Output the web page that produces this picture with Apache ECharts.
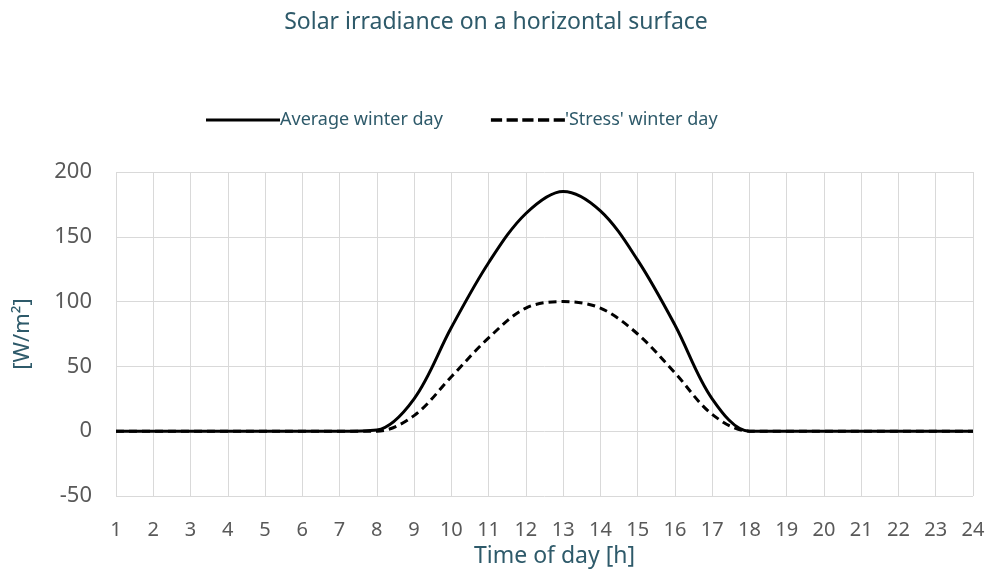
<!DOCTYPE html>
<html>
<head>
<meta charset="utf-8">
<script src="https://cdn.jsdelivr.net/npm/echarts@6/dist/echarts.min.js"></script>
<style>html,body{margin:0;padding:0;background:#fff;}#chart{width:992px;height:575px;}</style>
</head>
<body>
<div id="chart"></div>
<script>
const hours = ['1','2','3','4','5','6','7','8','9','10','11','12','13','14','15','16','17','18','19','20','21','22','23','24'];
const averageDay = [0,0,0,0,0,0,0,1,25,80,130,168,185,170,132,82,25,0,0,0,0,0,0,0];
const stressDay  = [0,0,0,0,0,0,0,0,12,42,72,95,100,95,75,45,13,0,0,0,0,0,0,0];
const yTicks = [-50, 0, 50, 100, 150, 200];

const chart = echarts.init(document.getElementById('chart'));
const teal = '#2E5A6A';
const font = 'Noto Sans';
chart.setOption({
  animation: false,
  title: {
    text: 'Solar irradiance on a horizontal surface',
    left: 'center', top: 6,
    textStyle: {color: teal, fontFamily: font, fontSize: 23, fontWeight: 'normal'}
  },
  legend: {
    top: 106, left: 201,
    itemGap: 48,
    itemWidth: 74, itemHeight: 14,
    textStyle: {color: teal, fontFamily: font, fontSize: 18, padding: [0,0,0,-5]},
    data: [
      {name: 'Average winter day', icon: 'path://M0,6L74,6L74,9L0,9Z'},
      {name: "'Stress' winter day", icon: 'path://M0,6L10,6L10,9L0,9ZM14,6L24,6L24,9L14,9ZM28,6L38,6L38,9L28,9ZM42,6L52,6L52,9L42,9ZM56,6L66,6L66,9L56,9Z'}
    ]
  },
  grid: {left: 116, right: 19, top: 172, bottom: 79},
  xAxis: {
    type: 'category', data: hours, boundaryGap: false,
    name: 'Time of day [h]', nameLocation: 'middle', nameGap: 46,
    nameTextStyle: {color: teal, fontFamily: font, fontSize: 23, padding: [0,0,0,20]},
    axisLine: {show: false}, axisTick: {show: false},
    axisLabel: {color: '#595959', fontFamily: font, fontSize: 20, margin: 24, interval: 0},
    splitLine: {show: true, lineStyle: {color: '#d9d9d9', width: 1}}
  },
  yAxis: {
    type: 'value', min: yTicks[0], max: yTicks[yTicks.length-1], interval: 50,
    name: '[W/m²]', nameLocation: 'middle', nameGap: 82, nameRotate: 90,
    nameTextStyle: {color: teal, fontFamily: font, fontSize: 22},
    axisLine: {show: false}, axisTick: {show: false},
    axisLabel: {color: '#595959', fontFamily: font, fontSize: 22, margin: 24},
    splitLine: {show: true, lineStyle: {color: '#d9d9d9', width: 1}}
  },
  series: [
    {name: 'Average winter day', type: 'line', data: averageDay, smooth: 0.34, smoothConstraint: false, symbol: 'none',
     lineStyle: {color: '#000', width: 3}, itemStyle: {color: '#000'}},
    {name: "'Stress' winter day", type: 'line', data: stressDay, smooth: 0.34, smoothConstraint: false, symbol: 'none',
     lineStyle: {color: '#000', width: 3, type: [8, 5]}, itemStyle: {color: '#000'}}
  ]
});
</script>
</body>
</html>
